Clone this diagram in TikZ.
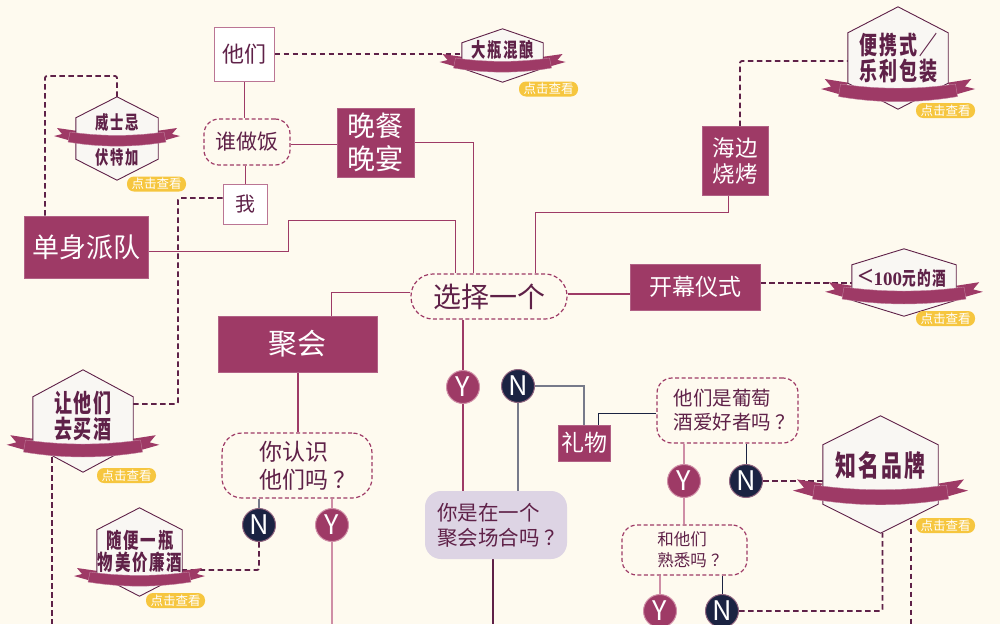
\documentclass[tikz,border=0pt]{standalone}
\usepackage{fontspec}
\setmainfont{Noto Sans CJK SC}
\newfontfamily\badgefont[FakeStretch=0.72,LetterSpace=8]{Noto Sans CJK SC}
\newfontfamily\thinserif{Liberation Serif}
\usetikzlibrary{calc,backgrounds}
\definecolor{pagebg}{HTML}{FEFAEF}
\definecolor{plum}{HTML}{9E3A66}
\definecolor{plumpale}{HTML}{CF8EA6}
\definecolor{winedark}{HTML}{5F2148}
\definecolor{navy}{HTML}{1B2342}
\definecolor{navygray}{HTML}{777A8A}
\definecolor{lavender}{HTML}{DDD4E4}
\definecolor{hexfill}{HTML}{F9F7F3}
\definecolor{tagyellow}{HTML}{F6C63F}

% #1 name, #2 x, #3 top, #4 bottom, #5 half width, #6 shoulder, #7 band top, #8 band scale, #9 band half width
\newcommand{\winebadge}[9]{
  \begin{scope}[shift={(#2,#7)}, yscale=#8]
    \fill[bandfill] ({-#9-11*#8},-4) -- ({-#9-6*#8},2) -- ({-#9-14*#8},4) -- (-#9,8) -- (-#9+10,-1) -- cycle;
    \fill[bandfill] ({#9+11*#8},-4) -- ({#9+6*#8},2) -- ({#9+14*#8},4) -- (#9,8) -- (#9-10,-1) -- cycle;
  \end{scope}
  \node[hexbody, minimum width=2*#5 pt, minimum height={(#4-#3)*1pt}] (#1) at (#2,{(#3+#4)/2}) {};
  \draw[hexline] (#1.north) -- ($(#1.north east)+(0,#6)$) -- ($(#1.south east)+(0,-#6)$)
    -- (#1.south) -- ($(#1.south west)+(0,-#6)$) -- ($(#1.north west)+(0,#6)$) -- cycle;
  \begin{scope}[shift={(#2,#7)}, yscale=#8]
    \draw[bandfill, draw=plum!65] (-#9+2,0) .. controls ({-#9/3},4.5) and ({#9/3},4.5) .. (#9-2,0)
      -- (#9,10) .. controls ({#9/3},15.5) and ({-#9/3},15.5) .. (-#9,10) -- cycle;
  \end{scope}
}

\begin{document}
\begin{tikzpicture}[x=1pt, y=-1pt,
    plainlink/.style={draw=plum, line width=1pt},
    palelink/.style={draw=plumpale, line width=2pt},
    navylink/.style={draw=navy, line width=1pt},
    graylink/.style={draw=navygray, line width=1.8pt},
    dashlink/.style={draw=winedark, line width=1.8pt, dash pattern=on 5.5pt off 3.5pt, rounded corners=2pt},
    solidbox/.style={fill=plum, draw=plum!80, line width=.6pt, text=white, align=center, inner sep=0pt},
    whitebox/.style={fill=white, draw=plum!70, line width=1pt, text=winedark, align=center, inner sep=0pt},
    askbox/.style={draw=plum, line width=1.2pt, dash pattern=on 4pt off 2.5pt, rounded corners=15pt, text=winedark, align=left, inner sep=0pt},
    yesdot/.style={circle, fill=plum, draw=plumpale, line width=1pt, text=white, minimum size=33pt, inner sep=0pt, font=\fontsize{27}{27}\selectfont},
    nodot/.style={circle, fill=navy, draw=winedark!70, line width=1pt, text=white, minimum size=33pt, inner sep=0pt, font=\fontsize{27}{27}\selectfont},
    hexbody/.style={inner sep=0pt},
    hexline/.style={draw=winedark, line width=.9pt, fill=hexfill},
    bandfill/.style={fill=plum},
    badgetext/.style={text=winedark, align=center, inner sep=0pt},
    clicktag/.style={fill=tagyellow, rounded corners=7pt, text=white, minimum width=59pt, minimum height=15pt, inner sep=0pt, font=\fontsize{12.5}{13}\selectfont}]
\useasboundingbox (0,0) rectangle (1000,624);
\coordinate (bottom) at (500,624);
\coordinate (soloturn) at (288,220);
\coordinate (seaturn) at (728,212);
\coordinate (whiskyturn) at (45,76);
\coordinate (meturn) at (178,300);

\node[whitebox, minimum width=60pt, minimum height=54pt, font=\fontsize{22}{26}\selectfont] (they) at (244,54) {他们};
\node[askbox, align=center, minimum width=86pt, minimum height=46pt, font=\fontsize{21}{24}\selectfont] (who) at (247,142) {谁做饭};
\node[whitebox, minimum width=44pt, minimum height=40pt, font=\fontsize{20}{24}\selectfont] (me) at (245,204) {我};
\node[solidbox, minimum width=77pt, minimum height=69pt, font=\fontsize{28}{33}\selectfont] (dinner) at (375.5,142.5) {晚餐\\晚宴};
\node[solidbox, minimum width=124pt, minimum height=62pt, font=\fontsize{27}{30}\selectfont] (solo) at (86,247) {单身派队};
\node[askbox, align=center, minimum width=156pt, minimum height=45pt, rounded corners=22pt, font=\fontsize{28}{30}\selectfont] (pick) at (489,296.5) {选择一个};
\node[solidbox, minimum width=66pt, minimum height=69pt, font=\fontsize{22.5}{26}\selectfont] (seaside) at (735,161) {海边\\烧烤};
\node[solidbox, minimum width=130pt, minimum height=46pt, font=\fontsize{23}{28}\selectfont] (opening) at (695,287) {开幕仪式};
\node[solidbox, minimum width=159pt, minimum height=56pt, font=\fontsize{29}{32}\selectfont] (party) at (297.5,344) {聚会};
\node[askbox, minimum width=150pt, minimum height=65pt, rounded corners=20pt, font=\fontsize{23}{28}\selectfont] (know) at (297,465.5) {\hspace*{22pt}你认识\\\hspace*{22pt}他们吗\hspace{.25em}？};
\node[solidbox, minimum width=52pt, minimum height=36pt, font=\fontsize{23}{26}\selectfont] (gift) at (584,443) {礼物};
\node[askbox, minimum width=141pt, minimum height=65pt, font=\fontsize{19.5}{24}\selectfont] (fan) at (727.5,410.5) {\hspace*{14pt}他们是葡萄\\\hspace*{14pt}酒爱好者吗\hspace{.25em}？};
\node[askbox, minimum width=125pt, minimum height=50pt, font=\fontsize{16.5}{21}\selectfont] (close) at (684.5,550) {\hspace*{16pt}和他们\\\hspace*{16pt}熟悉吗\hspace{.25em}？};
\node[fill=lavender, rounded corners=16pt, minimum width=142pt, minimum height=68pt, text=winedark, align=left, inner sep=0pt, font=\fontsize{20.5}{25}\selectfont] (occasion) at (496,525) {\hspace*{10pt}你是在一个\\\hspace*{10pt}聚会场合吗\hspace{.2em}？};

\node[nodot] (knowN) at (259,525) {N};
\node[yesdot] (knowY) at (332,525) {Y};
\node[yesdot] (pickY) at (463,387) {Y};
\node[nodot] (pickN) at (518,386) {N};
\node[yesdot] (fanY) at (684,481) {Y};
\node[nodot] (fanN) at (746,481) {N};
\node[yesdot] (closeY) at (660,611) {Y};
\node[nodot] (closeN) at (722,611) {N};

\winebadge{whisky}{117}{97}{180}{41}{21}{132}{1}{49}
\winebadge{brew}{502.5}{29}{82}{40.5}{14}{58}{1}{49}
\winebadge{portable}{898}{7}{109}{50}{26}{84}{1.25}{59.5}
\winebadge{cheap}{904}{249}{316}{52}{16}{287}{1.2}{62}
\winebadge{buy}{83}{370}{472}{50}{27}{440}{1.2}{59.5}
\winebadge{plain}{139.5}{508}{596}{42.5}{22}{572}{1}{51.5}
\winebadge{brand}{880.5}{416}{533}{57.5}{29}{485}{1.4}{68}

\node[badgetext, font=\badgefont\bfseries\fontsize{18.5}{35}\selectfont] (whiskytext) at (117,139.5) {威士忌\\伏特加};
\node[badgetext, font=\badgefont\bfseries\fontsize{20}{20}\selectfont] (brewtext) at (503,50) {大瓶混酿};
\node[badgetext, font=\badgefont\bfseries\fontsize{25}{26}\selectfont] (portabletext) at (898,58) {便携式／\\乐利包装};
\node[badgetext, font=\badgefont\bfseries\fontsize{19}{20}\selectfont] (cheaptext) at (902,278) {{\thinserif\fontsize{28}{20}\selectfont<\fontsize{19}{20}\selectfont 100}元的酒};
\node[badgetext, font=\badgefont\bfseries\fontsize{25}{26}\selectfont] (buytext) at (83,416) {让他们\\去买酒};
\node[badgetext, font=\badgefont\bfseries\fontsize{21.5}{22}\selectfont] (plaintext) at (140,551) {随便一瓶\\物美价廉酒};
\node[badgetext, font=\badgefont\bfseries\fontsize{29}{30}\selectfont] (brandtext) at (880.5,465) {知名品牌};

\node[clicktag] (whiskytag) at (156.5,184) {点击查看};
\node[clicktag] (brewtag) at (548.5,89) {点击查看};
\node[clicktag] (portabletag) at (945.5,110.5) {点击查看};
\node[clicktag] (cheaptag) at (945.5,318.5) {点击查看};
\node[clicktag] (buytag) at (126.5,475.5) {点击查看};
\node[clicktag] (plaintag) at (175.5,600.5) {点击查看};
\node[clicktag] (brandtag) at (945.5,525.5) {点击查看};

\begin{scope}[on background layer]
\fill[pagebg] (0,0) rectangle (1000,624);
\draw[plainlink] (they.south) -- (they.south |- who.north);
\draw[plainlink] (me.north |- who.south) -- (me.north);
\draw[plainlink] ([yshift=-2pt]who.east) -- ([yshift=-2pt]who.east -| dinner.west);
\draw[plainlink] (dinner.east) -| ([xshift=-16pt]pick.north);
\draw[plainlink] ([yshift=-4pt]solo.east) -| (soloturn) -| ([xshift=-34pt]pick.north);
\draw[plainlink] ([yshift=4pt]pick.west) -| ([xshift=34pt]party.north);
\draw[plainlink] ([xshift=46pt]pick.north) |- (seaturn) -- ([xshift=-7pt]seaside.south);
\draw[plainlink, line width=1.6pt] ([yshift=2.5pt]pick.east) -- ([yshift=2.5pt]pick.east -| opening.west);
\draw[plainlink, line width=1.6pt] ([xshift=.5pt]party.south) -- ([xshift=.5pt]party.south |- know.north);
\draw[plainlink, line width=1.6pt] (pickY.north |- pick.south) -- (pickY.north);
\draw[plainlink, line width=1.6pt] (pickY.south) -- (pickY.south |- occasion.north);
\draw[graylink] (pickN.south) -- (pickN.south |- occasion.north);
\draw[graylink] (pickN.east) -| (gift.north);
\draw[navylink] ([xshift=14pt]gift.north) |- ([yshift=-3pt]fan.west);
\draw[graylink] (knowN.north |- know.south) -- (knowN.north);
\draw[palelink] (knowY.north |- know.south) -- (knowY.north);
\draw[palelink] (knowY.south) -- (knowY.south |- bottom);
\draw[palelink] (fanY.north |- fan.south) -- (fanY.north);
\draw[navylink] (fanN.north |- fan.south) -- (fanN.north);
\draw[palelink] (fanY.south) -- (fanY.south |- close.north);
\draw[palelink] (closeY.north |- close.south) -- (closeY.north);
\draw[navylink] (closeN.north |- close.south) -- (closeN.north);
\draw[draw=winedark, line width=2.4pt] ([xshift=-3pt]occasion.south) -- ([xshift=-3pt]occasion.south |- bottom);

\draw[dashlink] (they.east) -- (they.east -| brew.west);
\draw[dashlink] (whisky.north) |- (whiskyturn) -- ([xshift=-41pt]solo.north);
\draw[dashlink] ([yshift=6pt]me.west) -| (meturn) |- ([yshift=17pt]buy.east);
\draw[dashlink] ([xshift=-31pt]buy.center) -- ([xshift=-31pt]buy.center |- bottom);
\draw[dashlink] ([xshift=5pt]seaside.north) |- ([yshift=-3pt]portable.west);
\draw[dashlink] ([yshift=-.5pt]opening.east |- cheap.west) -- ([yshift=-.5pt]cheap.west);
\draw[dashlink] (knowN.south) |- ([yshift=-18pt]plain.east);
\draw[dashlink] (fanN.east) -- (fanN.east -| brand.west);
\draw[dashlink] (closeN.east) -| ([xshift=2pt]brand.south);
\draw[dashlink] ([xshift=30.5pt]brand.center) -- ([xshift=30.5pt]brand.center |- bottom);
\end{scope}
\end{tikzpicture}
\end{document}
